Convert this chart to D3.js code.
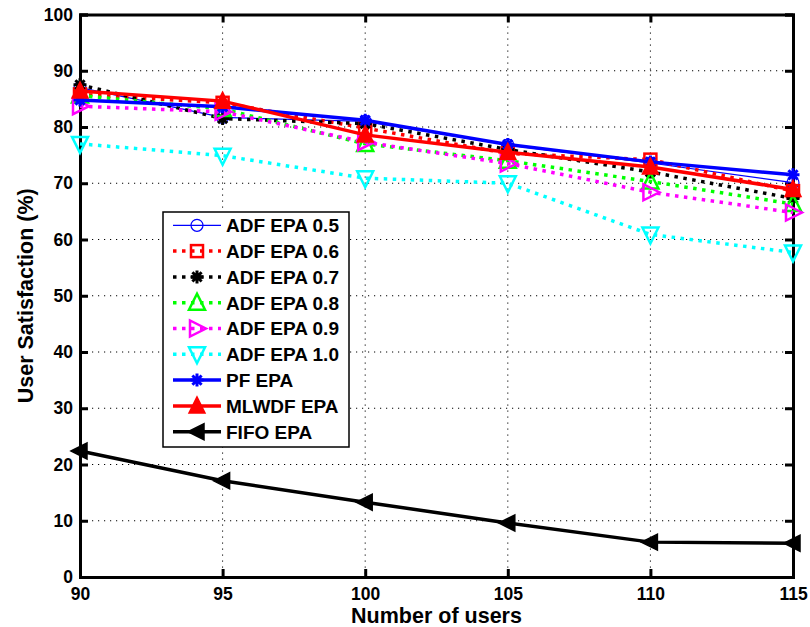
<!DOCTYPE html>
<html>
<head>
<meta charset="utf-8">
<script src="https://cdn.jsdelivr.net/npm/d3@7"></script>
<style>
  html, body { margin: 0; padding: 0; background: #fff; }
  svg { display: block; font-family: "Liberation Sans", Arial, sans-serif; font-weight: bold; }
</style>
</head>
<body>
<svg id="chart" width="810" height="627"></svg>
<script>
const users = [90, 95, 100, 105, 110, 115];
const xTicks = [90, 95, 100, 105, 110, 115];
const yTicks = [0, 10, 20, 30, 40, 50, 60, 70, 80, 90, 100];

const seriesNames = ["ADF EPA 0.5", "ADF EPA 0.6", "ADF EPA 0.7", "ADF EPA 0.8", "ADF EPA 0.9", "ADF EPA 1.0", "PF EPA", "MLWDF EPA", "FIFO EPA"];
const adf05 = [87.0, 81.7, 81.0, 76.8, 73.6, 70.1];
const adf06 = [85.8, 84.3, 79.8, 75.3, 74.2, 68.6];
const adf07 = [87.5, 81.5, 80.6, 76.0, 72.0, 67.3];
const adf08 = [85.6, 83.2, 77.0, 74.0, 70.3, 66.3];
const adf09 = [83.7, 82.7, 77.3, 73.5, 68.4, 64.8];
const adf10 = [77.0, 74.9, 70.9, 70.0, 60.9, 57.7];
const pf    = [84.8, 83.6, 81.2, 76.9, 73.8, 71.5];
const mlwdf = [86.4, 84.6, 78.6, 75.5, 72.9, 68.9];
const fifo  = [22.4, 17.1, 13.3, 9.6, 6.2, 6.0];
const seriesValues = [adf05, adf06, adf07, adf08, adf09, adf10, pf, mlwdf, fifo];

const styles = [
  {color: "#0000ff", width: 1.2, dash: null, marker: "circle", fill: false},
  {color: "#ff0000", width: 3.5, dash: "3.5,5.5", marker: "square", fill: false},
  {color: "#000000", width: 3.5, dash: "3.5,5.5", marker: "asterisk", fill: false},
  {color: "#00ff00", width: 3.5, dash: "3.5,5.5", marker: "triUp", fill: false},
  {color: "#ff00ff", width: 3.5, dash: "3.5,5.5", marker: "triRight", fill: false},
  {color: "#00ffff", width: 3.5, dash: "3.5,5.5", marker: "triDown", fill: false},
  {color: "#0000ff", width: 3.5, dash: null, marker: "asterisk", fill: false},
  {color: "#ff0000", width: 3.5, dash: null, marker: "triUp", fill: true},
  {color: "#000000", width: 3.5, dash: null, marker: "triLeft", fill: true}
];

const svg = d3.select("#chart");
const pL = 80, pR = 793, pT = 14.5, pB = 577;
const x = d3.scaleLinear().domain([90, 115]).range([pL, pR]);
const y = d3.scaleLinear().domain([0, 100]).range([pB, pT]);

// grid
const grid = svg.append("g");
grid.selectAll("line.gy").data(yTicks.filter(d => d > 0 && d < 100)).enter().append("line")
  .attr("x1", pL).attr("x2", pR).attr("y1", d => y(d)).attr("y2", d => y(d))
  .attr("stroke", "#000").attr("stroke-width", 1).attr("stroke-dasharray", "1.2,4.8");
grid.selectAll("line.gx").data(xTicks.filter(d => d > 90 && d < 115)).enter().append("line")
  .attr("y1", pT).attr("y2", pB).attr("x1", d => x(d)).attr("x2", d => x(d))
  .attr("stroke", "#000").attr("stroke-width", 1).attr("stroke-dasharray", "1.2,4.8");

// axes
const tickLen = 8;
const axL = svg.append("g").attr("transform", `translate(${pL},0)`)
  .call(d3.axisLeft(y).tickValues(yTicks).tickSize(-tickLen).tickPadding(7));
const axR = svg.append("g").attr("transform", `translate(${pR},0)`)
  .call(d3.axisRight(y).tickValues(yTicks).tickSize(-tickLen).tickFormat(""));
const axB = svg.append("g").attr("transform", `translate(0,${pB})`)
  .call(d3.axisBottom(x).tickValues(xTicks).tickSize(-tickLen).tickPadding(7));
const axT = svg.append("g").attr("transform", `translate(0,${pT})`)
  .call(d3.axisTop(x).tickValues(xTicks).tickSize(-tickLen).tickFormat(""));
[axL, axR, axB, axT].forEach(a => {
  a.select(".domain").attr("stroke", "#000").attr("stroke-width", 3);
  a.selectAll(".tick line").attr("stroke", "#000").attr("stroke-width", 3);
  a.selectAll("text").attr("fill", "#000").style("font-size", "17.5px").style("font-weight", "bold")
    .style("font-family", "'Liberation Sans', Arial, sans-serif");
});
axB.selectAll("text").attr("dy", "0.9em");

// marker drawing
function drawMarker(g, type, cx, cy, st) {
  const s = 8;
  const stroke = st.color, fill = st.fill ? st.color : "none";
  const sw = 2.5;
  if (type === "circle") {
    g.append("circle").attr("cx", cx).attr("cy", cy).attr("r", 6).attr("fill", "none").attr("stroke", stroke).attr("stroke-width", 1.2);
  } else if (type === "square") {
    g.append("rect").attr("x", cx - 6).attr("y", cy - 6).attr("width", 12).attr("height", 12).attr("fill", "none").attr("stroke", stroke).attr("stroke-width", sw);
  } else if (type === "asterisk") {
    const r = 6.5, d = r * 0.7071;
    const p = `M${cx - r},${cy}L${cx + r},${cy}M${cx},${cy - r}L${cx},${cy + r}M${cx - d},${cy - d}L${cx + d},${cy + d}M${cx - d},${cy + d}L${cx + d},${cy - d}`;
    g.append("path").attr("d", p).attr("stroke", stroke).attr("stroke-width", 3).attr("fill", "none");
  } else {
    let pts;
    if (type === "triUp") pts = [[cx, cy - s - 1], [cx - s, cy + s - 1], [cx + s, cy + s - 1]];
    if (type === "triDown") pts = [[cx, cy + s + 1], [cx - s, cy - s + 1], [cx + s, cy - s + 1]];
    if (type === "triRight") pts = [[cx + s + 1, cy], [cx - s + 1, cy - s], [cx - s + 1, cy + s]];
    if (type === "triLeft") pts = [[cx - s - 1, cy], [cx + s - 1, cy - s], [cx + s - 1, cy + s]];
    g.append("path").attr("d", "M" + pts.map(p => p.join(",")).join("L") + "Z")
      .attr("fill", fill).attr("stroke", stroke).attr("stroke-width", st.fill ? 1.5 : sw).attr("stroke-linejoin", "miter");
  }
}

const line = d3.line().x((d, i) => x(users[i])).y(d => y(d));
const plot = svg.append("g");
seriesValues.forEach((vals, k) => {
  const st = styles[k];
  const g = plot.append("g");
  g.append("path").attr("d", line(vals)).attr("fill", "none").attr("stroke", st.color)
    .attr("stroke-width", st.width).attr("stroke-dasharray", st.dash);
  vals.forEach((v, i) => drawMarker(g, st.marker, x(users[i]), y(v), st));
});

// legend
const lg = svg.append("g");
const lgX = 163, lgY = 212, lgW = 186, lgH = 235, rowH = 25.8, firstRow = 225.3;
lg.append("rect").attr("x", lgX).attr("y", lgY).attr("width", lgW).attr("height", lgH)
  .attr("fill", "#fff").attr("stroke", "#000").attr("stroke-width", 1.5);
seriesNames.forEach((name, k) => {
  const st = styles[k];
  const cy = firstRow + k * rowH;
  const g = lg.append("g");
  g.append("line").attr("x1", 173).attr("x2", 221).attr("y1", cy).attr("y2", cy)
    .attr("stroke", st.color).attr("stroke-width", st.width).attr("stroke-dasharray", st.dash);
  drawMarker(g, st.marker, 197, cy, st);
  g.append("text").attr("x", 226).attr("y", cy).attr("dy", "0.36em").text(name)
    .style("font-size", "19px").attr("fill", "#000");
});

// axis titles
svg.append("text").attr("x", (pL + pR) / 2).attr("y", 623).attr("text-anchor", "middle")
  .style("font-size", "21.5px").text("Number of users");
svg.append("text").attr("transform", `translate(33,${(pT + pB) / 2}) rotate(-90)`).attr("text-anchor", "middle")
  .style("font-size", "21.5px").text("User Satisfaction (%)");
</script>
</body>
</html>
